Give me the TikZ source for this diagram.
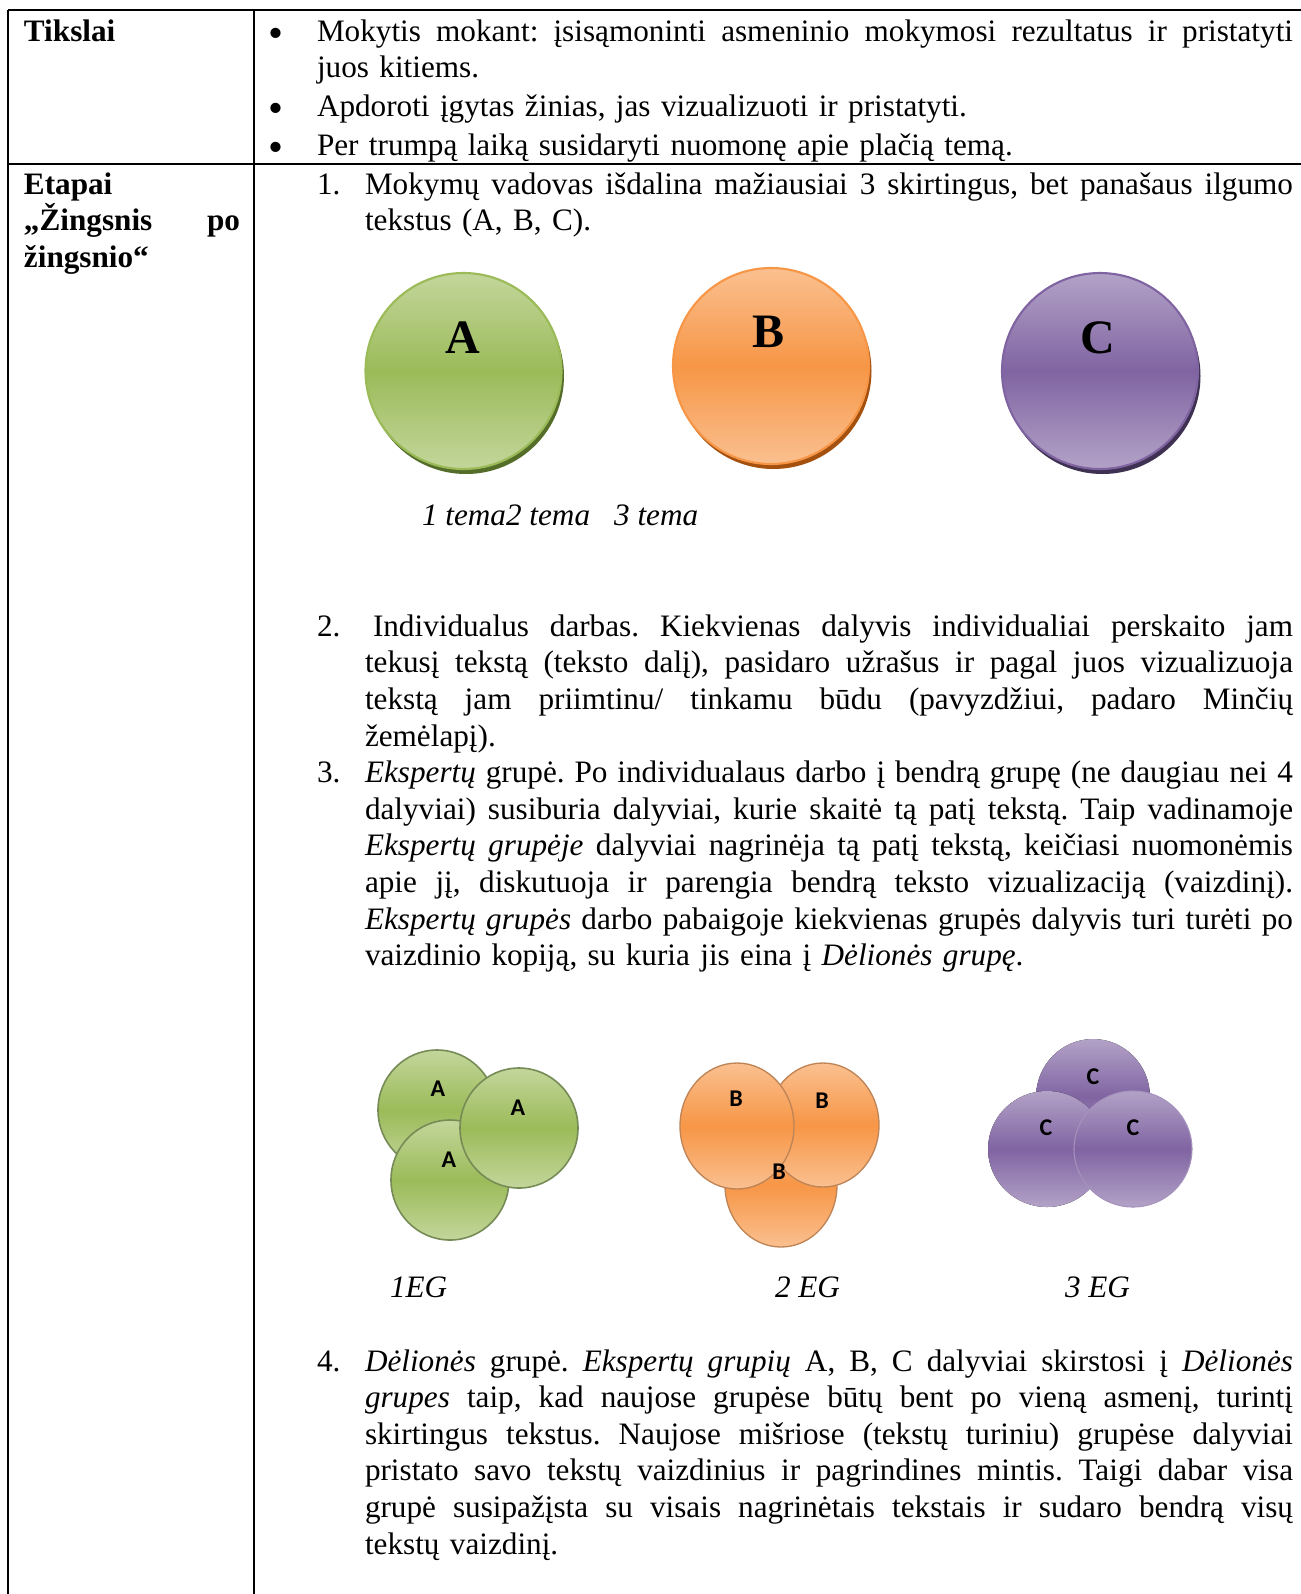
\documentclass[tikz,border=0pt]{standalone}
\usepackage{fontspec}
\setmainfont{Liberation Serif}
\newfontfamily\calibri{Carlito}
\usetikzlibrary{calc}
\frenchspacing

\definecolor{gLight}{HTML}{C3D69B}
\definecolor{gMid}{HTML}{9BBB59}
\definecolor{gDark}{HTML}{546E2A}
\definecolor{oLight}{HTML}{FAC090}
\definecolor{oMid}{HTML}{F79646}
\definecolor{oDark}{HTML}{A4500E}
\definecolor{pLight}{HTML}{B3A2C7}
\definecolor{pMid}{HTML}{8064A2}
\definecolor{pDark}{HTML}{3F3151}

% one justified line of a paragraph, spread to the width \jw
\newcommand\jw{348pt}
\newcommand\jus[1]{\makebox[\jw][s]{\spaceskip=0.25em plus 3em minus 0.08em\relax #1}}
\newcommand\bodyfont{\fontsize{11.7}{13.725}\selectfont}
\newcommand\bulletmark{\fontsize{16}{16}\selectfont •}

\begin{document}
\begin{tikzpicture}[x=0.375pt, y=-0.375pt,
  rule/.style={line width=0.55pt, black},
  txt/.style={anchor=base west, inner sep=0pt, outer sep=0pt, font=\bodyfont},
  para/.style={txt, text width=348pt, align=left},
  wide/.style={txt, text width=366pt, align=left},
  bul/.style={anchor=base, inner sep=0pt},
  bigletter/.style={inner sep=0pt, font=\fontsize{18}{18}\selectfont\bfseries},
  smallletter/.style={inner sep=0pt, font=\calibri\fontsize{9}{9}\selectfont\bfseries},
  greenfill/.style={top color=gLight, bottom color=gLight, middle color=gMid},
  orangefill/.style={top color=oLight, bottom color=oLight, middle color=oMid},
  purplefill/.style={top color=pLight, bottom color=pLight, middle color=pMid},
]
\useasboundingbox (0,0) rectangle (1301,1594);

% table rules
\draw[rule] (8,10) -- (1301,10);
\draw[rule] (8,164) -- (1301,164);
\draw[rule] (8,10) -- (8,1594);
\draw[rule] (254,10) -- (254,1594);

% row 1: goals
\node[txt, font=\bodyfont\bfseries] (goals) at (24,41) {Tikslai};
\node[bul] (b1) at (276,47) {\bulletmark};
\node[wide] (g1) at (317,41) {\renewcommand\jw{366pt}\jus{Mokytis mokant: įsisąmoninti asmeninio mokymosi rezultatus ir pristatyti}\\juos kitiems.};
\node[bul] (b2) at (276,122.5) {\bulletmark};
\node[wide] (g2) at (317,116.5) {Apdoroti įgytas žinias, jas vizualizuoti ir pristatyti.};
\node[bul] (b3) at (276,161.5) {\bulletmark};
\node[wide] (g3) at (317,155.5) {Per trumpą laiką susidaryti nuomonę apie plačią temą.};

% row 2: stages
\node[txt, text width=81pt, align=left, font=\bodyfont\bfseries] (stages) at (24,194)
  {\renewcommand\jw{81pt}Etapai\\\jus{„Žingsnis po}\\žingsnio“};

% step 1
\node[txt] (n1) at (317,194) {1.};
\node[para] (s1) at (365,194) {\jus{Mokymų vadovas išdalina mažiausiai 3 skirtingus, bet panašaus ilgumo}\\tekstus (A, B, C).};

% three texts
\coordinate (cA) at (463.5,371);
\coordinate (cB) at (771,366);
\coordinate (cC) at (1100,371);
\fill[gDark] ($(cA)+(2.5,5)$) circle[radius=98];
\draw[greenfill, draw=gMid, line width=0.8pt] (cA) circle[radius=98];
\fill[oDark] ($(cB)+(2.5,5)$) circle[radius=98];
\draw[orangefill, draw=oMid, line width=0.8pt] (cB) circle[radius=98];
\fill[pDark] ($(cC)+(2.5,5)$) circle[radius=98];
\draw[purplefill, draw=pMid, line width=0.8pt] (cC) circle[radius=98];
\node[bigletter] (lA) at (462.5,338) {A};
\node[bigletter] (lB) at (769,332) {B};
\node[bigletter] (lC) at (1098,338) {C};
\node[txt, font=\bodyfont\itshape] (topics) at (422,525) {1 tema2 tema\hspace{9pt}3 tema};

% step 2
\node[txt] (n2) at (317,636.3) {2.};
\node[para] (s2) at (365,636.3) {\jus{\hspace{3pt}Individualus darbas. Kiekvienas dalyvis individualiai perskaito jam}\\
  \jus{tekusį tekstą (teksto dalį), pasidaro užrašus ir pagal juos vizualizuoja}\\
  \jus{tekstą jam priimtinu/ tinkamu būdu (pavyzdžiui, padaro Minčių}\\
  žemėlapį).};

% step 3
\node[txt] (n3) at (317,782.6) {3.};
\node[para] (s3) at (365,782.6) {\jus{\textit{Ekspertų} grupė. Po individualaus darbo į bendrą grupę (ne daugiau nei 4}\\
  \jus{dalyviai) susiburia dalyviai, kurie skaitė tą patį tekstą. Taip vadinamoje}\\
  \jus{\textit{Ekspertų grupėje} dalyviai nagrinėja tą patį tekstą, keičiasi nuomonėmis}\\
  \jus{apie jį, diskutuoja ir parengia bendrą teksto vizualizaciją (vaizdinį).}\\
  \jus{\textit{Ekspertų grupės} darbo pabaigoje kiekvienas grupės dalyvis turi turėti po}\\
  vaizdinio kopiją, su kuria jis eina į \textit{Dėlionės grupę}.};

% expert groups: green
\draw[greenfill, draw=gDark!80, line width=0.6pt] (437,1110) ellipse[x radius=59, y radius=60];
\draw[greenfill, draw=gDark!80, line width=0.6pt] (450,1180) ellipse[x radius=59, y radius=60];
\draw[greenfill, draw=gDark!80, line width=0.6pt] (519,1128) ellipse[x radius=59, y radius=60];
\node[smallletter] (ga1) at (438,1089) {A};
\node[smallletter] (ga2) at (518,1108) {A};
\node[smallletter] (ga3) at (449,1160) {A};

% expert groups: orange
\draw[orangefill, draw=oDark!70, line width=0.5pt] (781,1185) ellipse[x radius=56, y radius=62];
\draw[orangefill, draw=oDark!70, line width=0.5pt] (823,1125) ellipse[x radius=56, y radius=62];
\draw[orangefill, draw=oDark!70, line width=0.5pt] (737,1126) ellipse[x radius=57, y radius=63];
\node[smallletter] (ob1) at (736,1099) {B};
\node[smallletter] (ob2) at (822,1101) {B};
\node[smallletter] (ob3) at (779,1172) {B};

% expert groups: purple
\fill[purplefill] (1093,1097) ellipse[x radius=57, y radius=58];
\fill[purplefill] (1047,1149) ellipse[x radius=59, y radius=58];
\fill[purplefill] (1133,1149) ellipse[x radius=59, y radius=58];
\draw[pMid!70!white, line width=0.4pt] (1133,1149) ellipse[x radius=59, y radius=58];
\node[smallletter] (pc1) at (1093,1077) {C};
\node[smallletter] (pc2) at (1046,1128) {C};
\node[smallletter] (pc3) at (1133,1128) {C};

\node[txt, font=\bodyfont\itshape] (eg1) at (390,1297) {1EG};
\node[txt, font=\bodyfont\itshape] (eg2) at (775,1297) {2 EG};
\node[txt, font=\bodyfont\itshape] (eg3) at (1065,1297) {3 EG};

% step 4
\node[txt] (n4) at (317,1371) {4.};
\node[para] (s4) at (365,1371) {\jus{\textit{Dėlionės} grupė. \textit{Ekspertų grupių} A, B, C dalyviai skirstosi į \textit{Dėlionės}}\\
  \jus{\textit{grupes} taip, kad naujose grupėse būtų bent po vieną asmenį, turintį}\\
  \jus{skirtingus tekstus. Naujose mišriose (tekstų turiniu) grupėse dalyviai}\\
  \jus{pristato savo tekstų vaizdinius ir pagrindines mintis. Taigi dabar visa}\\
  \jus{grupė susipažįsta su visais nagrinėtais tekstais ir sudaro bendrą visų}\\
  tekstų vaizdinį.};
\end{tikzpicture}
\end{document}
